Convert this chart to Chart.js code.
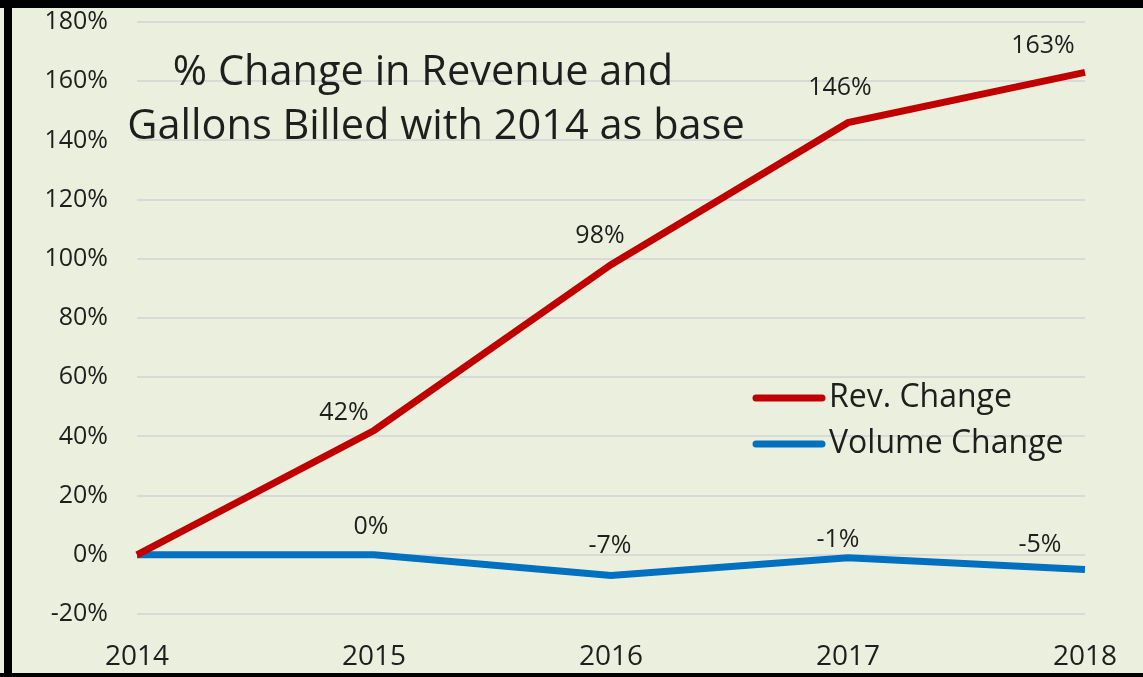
<!DOCTYPE html>
<html>
<head>
<meta charset="utf-8">
<script src="https://cdn.jsdelivr.net/npm/chart.js@4/dist/chart.umd.min.js"></script>
<style>
  html, body { margin: 0; padding: 0; background: #fff; }
  #wrap { width: 1143px; height: 677px; }
</style>
</head>
<body>
<div id="wrap"><canvas id="chart" width="1143" height="677"></canvas></div>
<script>
var years = ['2014', '2015', '2016', '2017', '2018'];
var revChange = [0, 42, 98, 146, 163];
var volumeChange = [0, 0, -7, -1, -5];
var seriesNames = ['Rev. Change', 'Volume Change'];
var titleLines = ['% Change in Revenue and', 'Gallons Billed with 2014 as base'];

var FONT = '"Open Sans", Lato, sans-serif';
var TEXT = '#1e1e1e';

// where each data label sits relative to its point (Excel put them by hand)
var labelOffsets = [
  [null, [-30, -18], [-11, -29], [-8, -35], [-42, -26]],
  [null, [-3, -28], [-1, -30], [-10, -18], [-45, -25]]
];

var frame = {
  id: 'frame',
  beforeDraw: function(chart) {
    var ctx = chart.ctx;
    ctx.save();
    ctx.fillStyle = '#ebf0de';
    ctx.fillRect(0, 0, chart.width, chart.height);
    ctx.fillStyle = '#000';
    ctx.fillRect(0, 0, chart.width, 8);
    ctx.fillRect(4, 0, 8, chart.height);
    ctx.fillRect(0, chart.height - 4, chart.width, 4);
    ctx.restore();
  }
};

var extras = {
  id: 'extras',
  afterDatasetsDraw: function(chart) {
    var ctx = chart.ctx;
    ctx.save();
    ctx.fillStyle = TEXT;
    ctx.textBaseline = 'middle';
    ctx.textAlign = 'center';

    // data labels
    ctx.font = '25px ' + FONT;
    chart.data.datasets.forEach(function(ds, i) {
      var meta = chart.getDatasetMeta(i);
      meta.data.forEach(function(pt, j) {
        var off = labelOffsets[i][j];
        if (!off) return;
        ctx.fillText(ds.data[j] + '%', pt.x + off[0], pt.y + off[1]);
      });
    });

    // title inside the plot
    ctx.font = '41.5px ' + FONT;
    ctx.fillText(titleLines[0], 423, 73);
    ctx.fillText(titleLines[1], 436, 127);

    // legend inside the plot
    ctx.textAlign = 'left';
    ctx.font = '32px ' + FONT;
    chart.data.datasets.forEach(function(ds, i) {
      var y = 398 + i * 46;
      ctx.strokeStyle = ds.borderColor;
      ctx.lineWidth = 7;
      ctx.lineCap = 'round';
      ctx.beginPath();
      ctx.moveTo(756, y);
      ctx.lineTo(822, y);
      ctx.stroke();
      ctx.fillText(ds.label, 829, y);
    });
    ctx.restore();
  }
};

new Chart(document.getElementById('chart'), {
  type: 'line',
  data: {
    labels: years,
    datasets: [
      { label: seriesNames[0], data: revChange, borderColor: '#c00000', borderWidth: 7, pointRadius: 0, tension: 0 },
      { label: seriesNames[1], data: volumeChange, borderColor: '#0070c0', borderWidth: 7, pointRadius: 0, tension: 0 }
    ]
  },
  options: {
    responsive: false,
    animation: false,
    layout: { padding: { left: 12, right: 58, top: 22, bottom: 0 } },
    plugins: { legend: { display: false }, tooltip: { enabled: false } },
    scales: {
      x: {
        offset: false,
        grid: { display: false, drawTicks: false },
        border: { display: false },
        ticks: { color: TEXT, font: { family: FONT, size: 28 }, padding: 26, maxRotation: 0 },
        afterFit: function(s) { s.height = 63; }
      },
      y: {
        min: -20, max: 180,
        grid: { color: '#d9d9d9', lineWidth: 2, drawTicks: false },
        border: { display: false },
        ticks: { stepSize: 20, color: TEXT, font: { family: FONT, size: 25 }, padding: 29,
                 callback: function(v) { return v + '%'; } },
        afterFit: function(s) { s.width = 125; s.paddingTop = 0; s.paddingBottom = 0; }
      }
    }
  },
  plugins: [frame, extras]
});
</script>
</body>
</html>
